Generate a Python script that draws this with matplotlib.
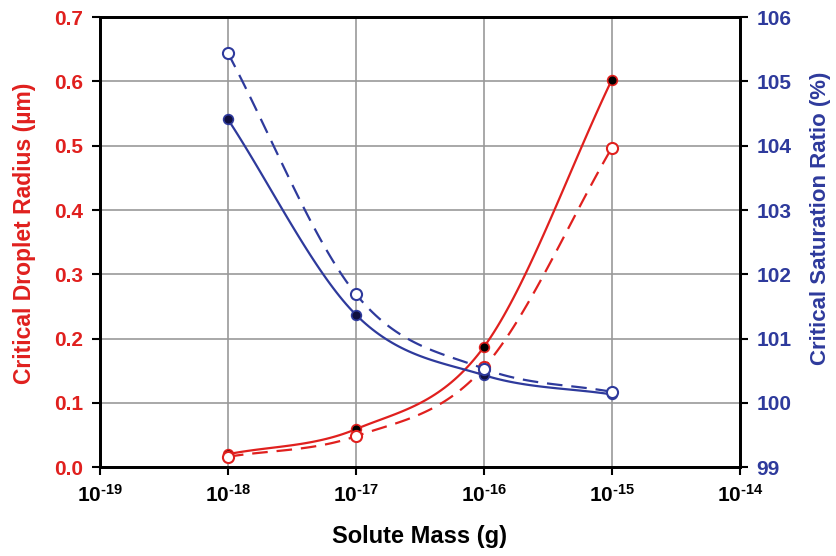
import numpy as np
import matplotlib.pyplot as plt

plt.rcParams['font.family'] = ['Liberation Sans', 'DejaVu Sans']
plt.rcParams['font.weight'] = 'bold'
plt.rcParams['mathtext.fontset'] = 'custom'
plt.rcParams['mathtext.rm'] = 'Liberation Sans:bold'
plt.rcParams['mathtext.bf'] = 'Liberation Sans:bold'
plt.rcParams['mathtext.it'] = 'Liberation Sans:bold'

mass = [1e-18, 1e-17, 1e-16, 1e-15]
radius_filled = [0.020, 0.059, 0.187, 0.603]
radius_open = [0.016, 0.048, 0.155, 0.497]
ratio_filled = [104.41, 101.37, 100.43, 100.13]
ratio_open = [105.44, 101.69, 100.53, 100.17]

red = '#e0201e'
blue = '#2e3a9c'


def smooth(x, y, n=40):
    # catmull-rom through the points, in log-x, like excel smoothed lines
    lx = np.log10(x)
    y = np.asarray(y, float)
    px = np.concatenate([[2 * lx[0] - lx[1]], lx, [2 * lx[-1] - lx[-2]]])
    py = np.concatenate([[2 * y[0] - y[1]], y, [2 * y[-1] - y[-2]]])
    xs, ys = [], []
    for i in range(1, len(px) - 2):
        t = np.linspace(0, 1, n)
        for arr, out in ((px, xs), (py, ys)):
            p0, p1, p2, p3 = arr[i - 1], arr[i], arr[i + 1], arr[i + 2]
            out.extend(0.5 * (2 * p1 + (-p0 + p2) * t
                              + (2 * p0 - 5 * p1 + 4 * p2 - p3) * t ** 2
                              + (-p0 + 3 * p1 - 3 * p2 + p3) * t ** 3))
    return 10 ** np.array(xs), np.array(ys)


fig = plt.figure(figsize=(8.37, 5.56), dpi=100)
ax = fig.add_axes([0.1195, 0.16, 0.7645, 0.809])
ax2 = ax.twinx()

sx, sy = smooth(mass, radius_filled)
ax.plot(sx, sy, color=red, lw=1.6)
sx, sy = smooth(mass, radius_open)
ax.plot(sx, sy, color=red, lw=1.6, ls=(0, (7, 4)))
ax.plot(mass, radius_filled, 'o', ms=7, mfc='black', mec=red, mew=1.2)
ax.plot(mass, radius_open, 'o', ms=8, mfc='white', mec=red, mew=1.5)

sx, sy = smooth(mass, ratio_filled)
ax2.plot(sx, sy, color=blue, lw=1.6)
sx, sy = smooth(mass, ratio_open)
ax2.plot(sx, sy, color=blue, lw=1.6, ls=(0, (7, 4)))
ax2.plot(mass, ratio_filled, 'o', ms=7, mfc='#101040', mec=blue, mew=1.2)
ax2.plot(mass, ratio_open, 'o', ms=8, mfc='white', mec=blue, mew=1.5)

ax.set_xscale('log')
ax.set_xlim(1e-19, 1e-14)
ax.set_xticks([1e-19, 1e-18, 1e-17, 1e-16, 1e-15, 1e-14])
ax.set_xticklabels([r'10$^{\text{-}%d}$' % k for k in range(19, 13, -1)])
ax.minorticks_off()
ax.set_ylim(0, 0.7)
ax.set_yticks(np.arange(0, 0.71, 0.1))
ax.set_yticklabels(['%.1f' % v for v in np.arange(0, 0.71, 0.1)])
ax2.set_ylim(99, 106)
ax2.set_yticks(range(99, 107))

ax.grid(True, color='#999999', lw=1.2)
ax.set_axisbelow(True)
for s in ax.spines.values():
    s.set_linewidth(2)
for s in ax2.spines.values():
    s.set_linewidth(2)

ax.tick_params(axis='x', labelsize=15, length=6, width=1.5, pad=6)
ax.tick_params(axis='y', labelsize=15, length=6, width=1.5, pad=6, labelcolor=red)
ax2.tick_params(axis='y', labelsize=15, length=6, width=1.5, pad=6, labelcolor=blue)

ax.set_xlabel('Solute Mass (g)', fontsize=17, fontweight='bold', labelpad=14)
ax.set_ylabel('Critical Droplet Radius (\u00b5m)', fontsize=16.5, fontweight='bold',
              color=red)
ax2.set_ylabel('Critical Saturation Ratio (%)', fontsize=16, fontweight='bold',
               color=blue)
ax.yaxis.set_label_coords(-0.100, 0.52)
ax2.yaxis.set_label_coords(1.109, 0.553)

fig.savefig('out.png', dpi=100)
